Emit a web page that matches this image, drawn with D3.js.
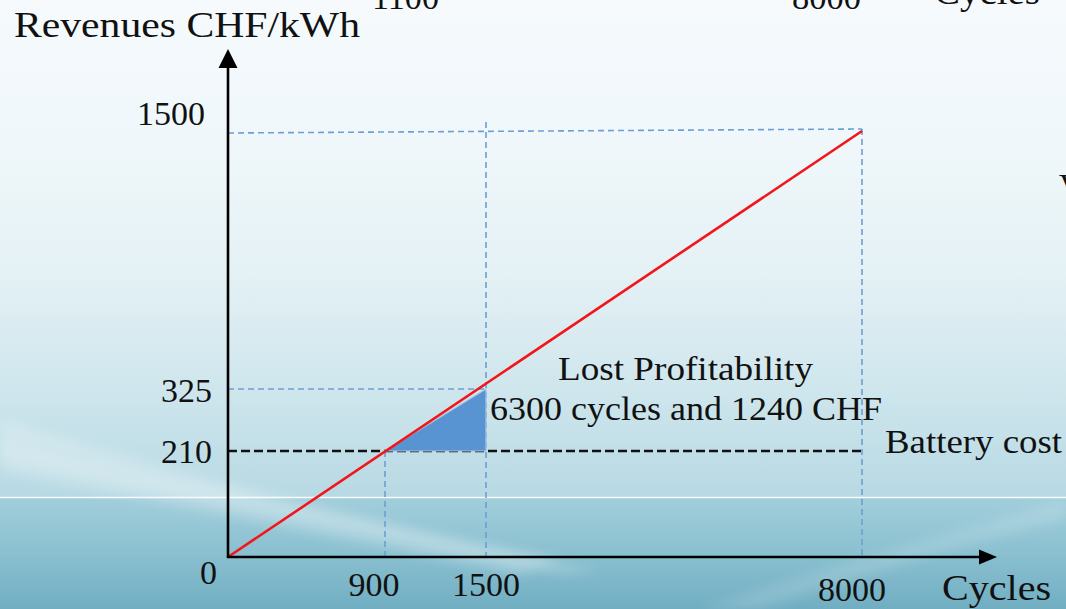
<!DOCTYPE html>
<html>
<head>
<meta charset="utf-8">
<script src="https://cdn.jsdelivr.net/npm/d3@7/dist/d3.min.js"></script>
<style>
  html, body { margin: 0; padding: 0; background: #f4f9fc; }
  svg { display: block; }
  text { font-family: "Liberation Serif", "Times New Roman", serif; fill: #111; }
</style>
</head>
<body>
<svg id="chart" width="1066" height="609"></svg>
<script>
// Break-even sketch: cumulative revenue per kWh versus number of cycles
const cycles      = [0, 900, 1500, 8000];      // key cycle counts on the x axis
const revenues    = [0, 210, 325, 1500];       // matching revenue levels (CHF/kWh)
const xTickValues = [900, 1500, 8000];
const yTickValues = [0, 210, 325, 1500];
const batteryCost = 210;                       // CHF/kWh
const lostRegion  = [[900, 210], [1500, 210], [1500, 325]];
const revenueLine = [[0, 0], [8000, 1500]];
const annotation  = ["Lost Profitability", "6300 cycles and 1240 CHF"];
const topFragments = ["1100", "8000", "Cycles"];

const W = 1066, H = 609;
const svg = d3.select("#chart");
const defs = svg.append("defs");

// ---- slide background ----
const gUpper = defs.append("linearGradient").attr("id", "bgUpper")
  .attr("x1", 0).attr("y1", 0).attr("x2", 0).attr("y2", 1);
[[0, "#f6fafd"], [0.3, "#eff7fa"], [0.55, "#e4f1f5"], [0.78, "#cfe6ed"], [1, "#b7d9e3"]]
  .forEach(([o, c]) => gUpper.append("stop").attr("offset", o).attr("stop-color", c));
const gLower = defs.append("linearGradient").attr("id", "bgLower")
  .attr("x1", 0).attr("y1", 0).attr("x2", 0).attr("y2", 1);
[[0, "#a2cedb"], [0.5, "#8ac0d0"], [1, "#71aec2"]]
  .forEach(([o, c]) => gLower.append("stop").attr("offset", o).attr("stop-color", c));
defs.append("filter").attr("id", "soft").attr("x", "-20%").attr("y", "-50%")
  .attr("width", "140%").attr("height", "200%")
  .append("feGaussianBlur").attr("stdDeviation", 6);

const bg = svg.append("g");
bg.append("rect").attr("width", W).attr("height", 498).attr("fill", "url(#bgUpper)");
bg.append("rect").attr("y", 498).attr("width", W).attr("height", H - 498).attr("fill", "url(#bgLower)");
// light diagonal sweeps
bg.append("path").attr("d", "M0,420 L0,470 C150,500 300,530 520,575 L560,560 C350,520 180,470 0,420Z")
  .attr("fill", "#ffffff").attr("opacity", 0.22).attr("filter", "url(#soft)");
bg.append("path").attr("d", "M0,455 C160,490 330,525 560,575 L600,570 C360,520 170,480 0,445Z")
  .attr("fill", "#ffffff").attr("opacity", 0.18).attr("filter", "url(#soft)");
bg.append("path").attr("d", "M700,609 C850,560 960,530 1066,500 L1066,520 C960,545 860,575 760,609Z")
  .attr("fill", "#ffffff").attr("opacity", 0.14).attr("filter", "url(#soft)");
bg.append("line").attr("x1", 0).attr("x2", W).attr("y1", 497.5).attr("y2", 497.5)
  .attr("stroke", "#ffffff").attr("stroke-width", 1.5).attr("opacity", 0.9);

// ---- scales (schematic, piecewise linear) ----
const x = d3.scaleLinear().domain(cycles).range([228, 385, 486, 862]);
const y = d3.scaleLinear().domain(revenues).range([557, 451, 389, 131]);

const guide = svg.append("g").attr("fill", "none")
  .attr("stroke", "#6c9fd3").attr("stroke-width", 1.6).attr("stroke-dasharray", "6,4");
// horizontal guides
guide.append("line").attr("x1", x(0)).attr("x2", x(8000)).attr("y1", y(1500) + 2).attr("y2", y(1500) - 2);
guide.append("line").attr("x1", x(0)).attr("x2", x(1500)).attr("y1", y(325)).attr("y2", y(325));
// vertical guides
guide.append("line").attr("x1", x(8000)).attr("x2", x(8000)).attr("y1", y(1500) - 2).attr("y2", y(0));
guide.append("line").attr("x1", x(1500)).attr("x2", x(1500)).attr("y1", y(1500) - 9).attr("y2", y(0));
guide.append("line").attr("x1", x(900)).attr("x2", x(900)).attr("y1", y(batteryCost)).attr("y2", y(0));

// battery cost level
svg.append("line")
  .attr("x1", x(0)).attr("x2", x(8000)).attr("y1", y(batteryCost)).attr("y2", y(batteryCost))
  .attr("stroke", "#111").attr("stroke-width", 2.4).attr("stroke-dasharray", "9,4");

// lost profitability region
svg.append("path")
  .attr("d", d3.line().x(d => x(d[0])).y(d => y(d[1]))(lostRegion) + "Z")
  .attr("fill", "#5893d2").attr("stroke", "#a9c6e4").attr("stroke-width", 1.2);

// revenue line
svg.append("path")
  .attr("d", d3.line().x(d => x(d[0])).y(d => y(d[1]))(revenueLine))
  .attr("fill", "none").attr("stroke", "#f2161b").attr("stroke-width", 2.6);

// ---- axes with arrowheads ----
const axes = svg.append("g");
axes.append("line").attr("x1", x(0)).attr("x2", x(0)).attr("y1", y(0) + 1).attr("y2", 66)
  .attr("stroke", "#000").attr("stroke-width", 2.6);
axes.append("path").attr("d", `M${x(0) - 9.5},68 L${x(0)},49 L${x(0) + 9.5},68Z`).attr("fill", "#000");
axes.append("line").attr("x1", x(0) - 1).attr("x2", 980).attr("y1", y(0)).attr("y2", y(0))
  .attr("stroke", "#000").attr("stroke-width", 2.6);
axes.append("path").attr("d", `M979,${y(0) - 7.5} L997,${y(0)} L979,${y(0) + 7.5}Z`).attr("fill", "#000");

// tick labels
const xNudge = { 900: [-11, 0], 1500: [0, 0], 8000: [-10, 5] };
svg.append("g").selectAll("text").data(xTickValues).join("text")
  .attr("x", d => x(d) + xNudge[d][0])
  .attr("y", 596 + 0)
  .attr("dy", d => xNudge[d][1])
  .attr("text-anchor", "middle")
  .attr("font-size", 34)
  .text(d3.format("d"));

const yNudge = { 0: [5, 15], 210: [0, 0], 325: [0, 1], 1500: [-7, -18] };
svg.append("g").selectAll("text").data(yTickValues).join("text")
  .attr("x", d => 212 + yNudge[d][0])
  .attr("y", d => y(d) + 12 + yNudge[d][1])
  .attr("text-anchor", "end")
  .attr("font-size", 34)
  .text(d3.format("d"));

// titles and annotations
function label(txt, lx, ly, size, width) {
  svg.append("text").attr("x", lx).attr("y", ly).attr("font-size", size)
    .attr("textLength", width).attr("lengthAdjust", "spacingAndGlyphs").text(txt);
}
label("Revenues CHF/kWh", 14, 37, 36, 346);
label("Cycles", 942, 600, 35, 109);
label(annotation[0], 558, 380, 34, 255);
label(annotation[1], 490, 420, 34, 392);
label("Battery cost", 885, 453, 34, 177);

// fragments of neighbouring slide content, cut by the frame
label(topFragments[0], 372, 9, 34, 67);
label(topFragments[1], 792, 9, 34, 69);
label(topFragments[2], 934, 4, 35, 106);
svg.append("text").attr("x", 1059).attr("y", 197).attr("font-size", 34).text("V");
</script>
</body>
</html>
